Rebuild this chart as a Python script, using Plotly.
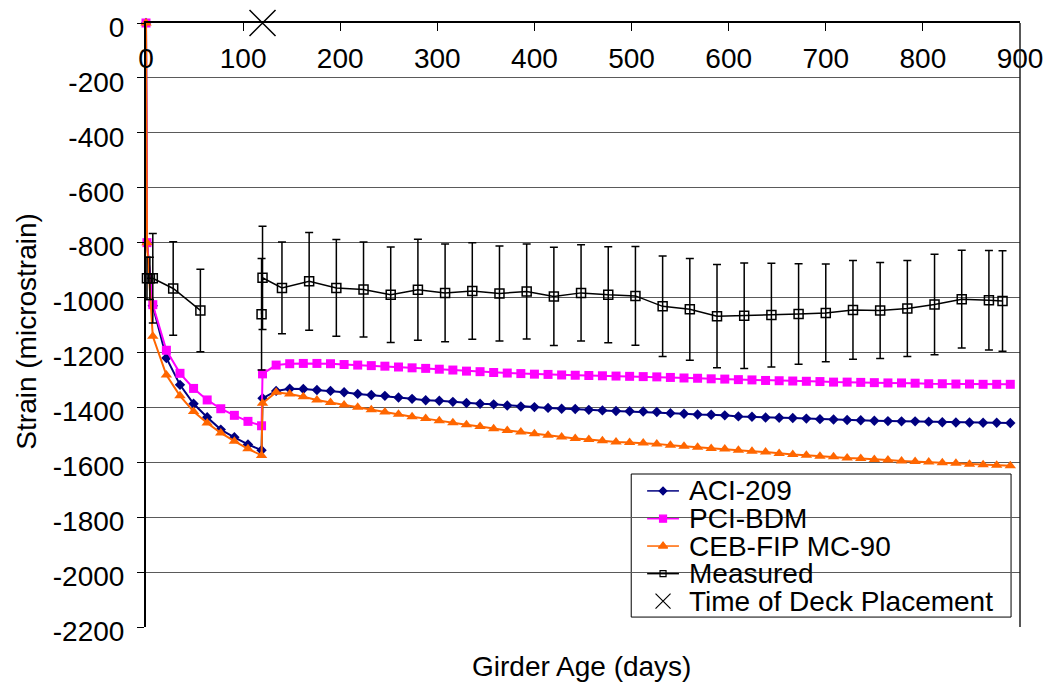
import plotly.graph_objects as go

# ---------------------------------------------------------------- data
# Girder age (days) at which the prediction models were evaluated
model_days = [0, 1, 7, 21, 35, 49, 63, 77, 91, 105, 119, 120,
              134, 148, 162, 176, 190, 204, 218, 232, 246, 260, 274, 288, 302, 316,
              330, 344, 358, 372, 386, 400, 414, 428, 442, 456, 470, 484, 498, 512,
              526, 540, 554, 568, 582, 596, 610, 624, 638, 652, 666, 680, 694, 708,
              722, 736, 750, 764, 778, 792, 806, 820, 834, 848, 862, 876, 890]

aci_209 = [0, -800, -1030, -1220, -1318, -1387, -1436, -1481, -1509, -1535, -1556, -1367,
           -1340, -1332, -1333, -1337, -1340, -1345, -1351, -1355, -1358, -1364, -1369, -1374, -1376, -1380,
           -1384, -1387, -1389, -1393, -1397, -1399, -1402, -1405, -1406, -1409, -1411, -1413, -1414, -1415,
           -1417, -1421, -1423, -1426, -1427, -1429, -1433, -1434, -1437, -1438, -1439, -1441, -1443, -1444,
           -1446, -1447, -1449, -1450, -1451, -1451, -1452, -1454, -1455, -1455, -1456, -1456, -1457]

pci_bdm = [0, -800, -1026, -1192, -1276, -1331, -1373, -1405, -1429, -1451, -1467, -1278,
           -1246, -1241, -1240, -1240, -1241, -1244, -1246, -1248, -1250, -1253, -1256, -1258, -1261, -1264,
           -1268, -1270, -1273, -1275, -1277, -1279, -1280, -1282, -1283, -1284, -1285, -1286, -1287, -1288,
           -1289, -1291, -1293, -1294, -1296, -1297, -1299, -1300, -1302, -1303, -1304, -1305, -1306, -1308,
           -1308, -1309, -1310, -1311, -1311, -1312, -1314, -1314, -1315, -1315, -1316, -1316, -1316]

ceb_fip = [0, -800, -1141, -1282, -1358, -1415, -1457, -1493, -1523, -1551, -1575, -1385,
           -1345, -1351, -1361, -1373, -1382, -1391, -1400, -1409, -1417, -1425, -1434, -1441, -1449, -1456,
           -1463, -1470, -1478, -1484, -1490, -1496, -1502, -1508, -1513, -1517, -1522, -1526, -1528, -1530,
           -1533, -1538, -1542, -1545, -1550, -1552, -1556, -1560, -1563, -1568, -1572, -1574, -1578, -1580,
           -1584, -1586, -1590, -1592, -1595, -1597, -1599, -1602, -1604, -1607, -1609, -1611, -1613]

# Measured strain (mean and scatter band); None separates the pre- and post-deck records
measured_days = [1, 4, 7, 28, 56, None, 119, 120, 140, 168, 196, 224, 252, 280, 308, 336,
                 364, 392, 420, 448, 476, 504, 532, 560, 588, 616, 644, 672, 700, 728,
                 756, 784, 812, 840, 868, 882]
measured_strain = [-930, -930, -930, -967, -1047, None, -1061, -928, -965, -941, -965, -971,
                   -990, -972, -983, -976, -985, -978, -996, -983, -990, -994, -1032, -1043,
                   -1068, -1066, -1064, -1060, -1056, -1045, -1047, -1040, -1025, -1006, -1010, -1013]
measured_err = [77, 77, 163, 170, 150, None, 203, 188, 167, 178, 176, 173,
                174, 184, 178, 176, 173, 173, 179, 175, 175, 180, 183, 185,
                188, 192, 189, 183, 178, 180, 175, 175, 183, 178, 181, 183]

deck_day = [120]
deck_strain = [0]

x_ticks = [0, 100, 200, 300, 400, 500, 600, 700, 800, 900]
x_tick_labels = ["0", "100", "200", "300", "400", "500", "600", "700", "800", "900"]
y_ticks = [0, -200, -400, -600, -800, -1000, -1200, -1400, -1600, -1800, -2000, -2200]
y_tick_labels = ["0", "-200", "-400", "-600", "-800", "-1000", "-1200", "-1400",
                 "-1600", "-1800", "-2000", "-2200"]

legend_names = ["ACI-209", "PCI-BDM", "CEB-FIP MC-90", "Measured", "Time of Deck Placement"]

# ---------------------------------------------------------------- styling
FONT = "Liberation Sans, Arial, sans-serif"
FS = 28
NAVY, MAGENTA, ORANGE, BLACK = "#000080", "#FF00FF", "#FF6600", "#000000"

W, H = 1055, 691
ML, MR, MT, MB = 146, 30, 19, 64
PW, PH = W - ML - MR, H - MT - MB


def px_x(p):
    """pixel column -> paper x"""
    return (p - ML) / PW


def px_y(p):
    """pixel row -> paper y"""
    return (H - MB - p) / PH


fig = go.Figure()

series = [
    (aci_209, NAVY, "diamond", 8),
    (pci_bdm, MAGENTA, "square", 9),
    (ceb_fip, ORANGE, "triangle-up", 10),
]
for name, (vals, col, sym, sz) in zip(legend_names[:3], series):
    fig.add_trace(go.Scatter(
        x=model_days, y=vals, name=name, mode="lines+markers",
        line=dict(color=col, width=2),
        marker=dict(symbol=sym, size=sz, color=col, line=dict(width=0)),
        showlegend=False, cliponaxis=False,
    ))

fig.add_trace(go.Scatter(
    x=measured_days, y=measured_strain, name=legend_names[3], mode="lines+markers",
    line=dict(color=BLACK, width=1.5),
    marker=dict(symbol="square-open", size=9, color=BLACK, line=dict(width=1.5)),
    error_y=dict(type="data", array=measured_err, visible=True,
                 color=BLACK, thickness=1.5, width=4),
    showlegend=False, cliponaxis=False,
))

fig.add_trace(go.Scatter(
    x=deck_day, y=deck_strain, name=legend_names[4], mode="markers",
    marker=dict(symbol="x-thin", size=26, color=BLACK, line=dict(width=1.5, color=BLACK)),
    showlegend=False, cliponaxis=False,
))

# ---------------------------------------------------------------- legend (boxed key)
box_l, box_t, box_r, box_b = 634, 473, 1016, 617
row_y = [490, 518, 545.5, 573.3, 601]
samp_l, samp_m, samp_r, text_l = 650, 666, 682, 690

key_styles = [
    (NAVY, "diamond", 6, True),
    (MAGENTA, "square", 7, True),
    (ORANGE, "triangle-up", 8, True),
    (BLACK, "square-open", 6, True),
    (BLACK, "x-thin", 15, False),
]
for (col, sym, sz, has_line), ry in zip(key_styles, row_y):
    yy = px_y(ry)
    if has_line:
        fig.add_trace(go.Scatter(
            x=[px_x(samp_l), px_x(samp_r)], y=[yy, yy], mode="lines",
            line=dict(color=col, width=1.5), xaxis="x2", yaxis="y2",
            showlegend=False, hoverinfo="skip", cliponaxis=False))
    fig.add_trace(go.Scatter(
        x=[px_x(samp_m)], y=[yy], mode="markers",
        marker=dict(symbol=sym, size=sz, color=col, line=dict(width=1.2, color=col)),
        xaxis="x2", yaxis="y2", showlegend=False, hoverinfo="skip", cliponaxis=False))

annotations = []
for name, ry in zip(legend_names, row_y):
    annotations.append(dict(
        text=name, xref="paper", yref="paper", x=px_x(text_l), y=px_y(ry),
        xanchor="left", yanchor="middle", showarrow=False,
        font=dict(family=FONT, size=FS, color=BLACK)))

annotations.append(dict(
    text="Girder Age (days)", xref="paper", yref="paper",
    x=px_x(584), y=px_y(667), xanchor="center", yanchor="middle", showarrow=False,
    font=dict(family=FONT, size=FS, color=BLACK)))
annotations.append(dict(
    text="Strain (microstrain)", xref="paper", yref="paper", textangle=-90,
    x=px_x(26), y=px_y(330), xanchor="center", yanchor="middle", showarrow=False,
    font=dict(family=FONT, size=FS, color=BLACK)))

shapes = [
    # white key box hides the grid behind it
    dict(type="rect", xref="paper", yref="paper", layer="between",
         x0=px_x(box_l), x1=px_x(box_r), y0=px_y(box_b), y1=px_y(box_t),
         fillcolor="white", line=dict(color=BLACK, width=1)),
    # right-hand frame of the plot area
    dict(type="line", xref="paper", yref="paper", x0=1, x1=1, y0=0, y1=1,
         line=dict(color="#202020", width=1.5)),
]

fig.update_layout(
    width=W, height=H,
    margin=dict(l=ML, r=MR, t=MT, b=MB, pad=0),
    paper_bgcolor="white", plot_bgcolor="white",
    font=dict(family=FONT, size=FS, color=BLACK),
    showlegend=False,
    xaxis=dict(
        range=[0, 900], side="top", showline=True, linecolor=BLACK, linewidth=2,
        ticks="inside", ticklen=8, tickwidth=1, tickcolor=BLACK,
        tickvals=x_ticks, ticktext=x_tick_labels,
        ticklabelposition="inside", ticklabeloverflow="allow", ticklabelstandoff=20,
        showgrid=False, zeroline=False,
        tickfont=dict(family=FONT, size=FS, color=BLACK),
    ),
    yaxis=dict(
        range=[-2200, 0], showline=True, linecolor=BLACK, linewidth=2,
        ticks="outside", ticklen=7, tickwidth=1, tickcolor=BLACK,
        tickvals=y_ticks, ticktext=y_tick_labels,
        ticklabelstandoff=7, ticklabelshift=4,
        showgrid=True, gridcolor="#5a5a5a", gridwidth=1, zeroline=False,
        tickfont=dict(family=FONT, size=FS, color=BLACK),
    ),
    xaxis2=dict(overlaying="x", range=[0, 1], visible=False),
    yaxis2=dict(overlaying="y", range=[0, 1], visible=False),
    annotations=annotations,
    shapes=shapes,
)

fig.write_html("out.html")
